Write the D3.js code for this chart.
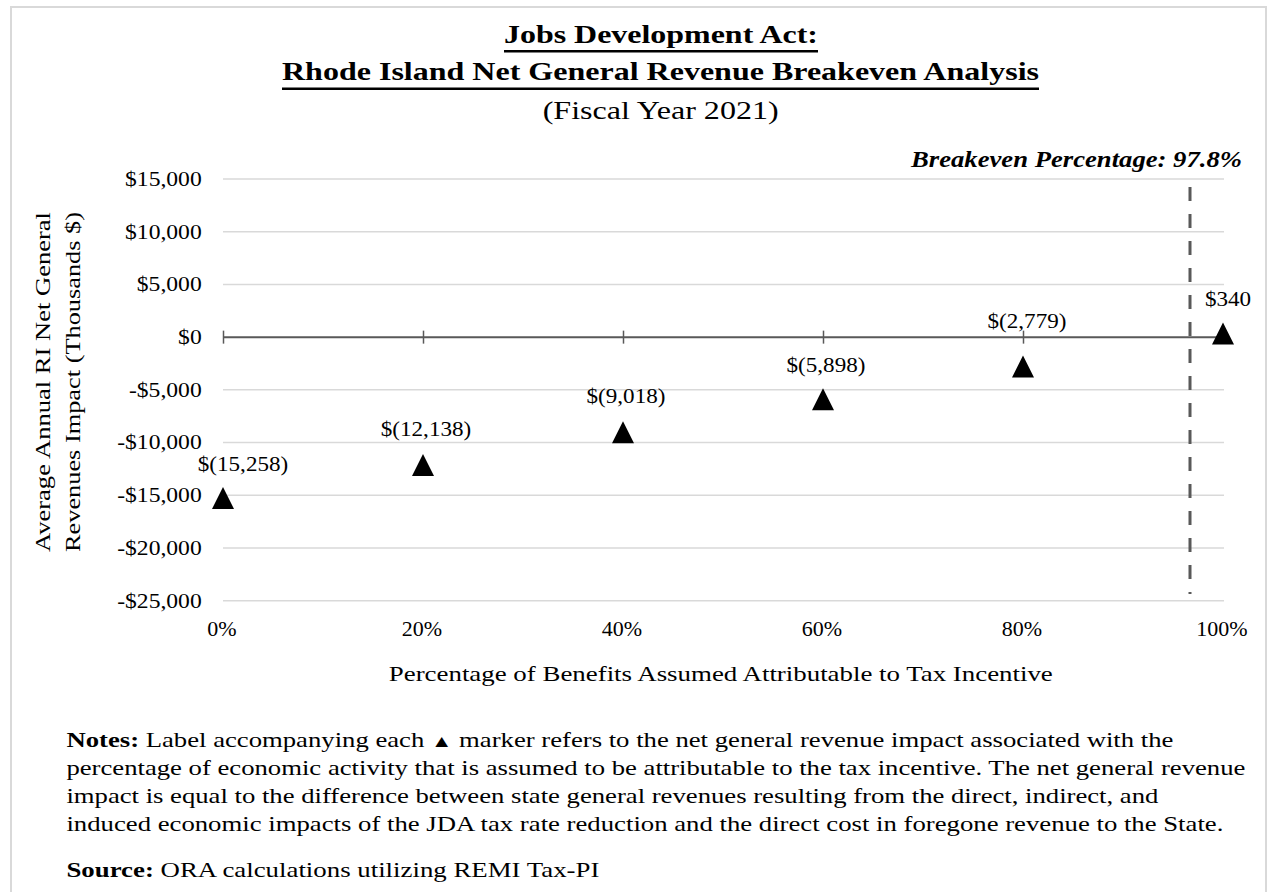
<!DOCTYPE html>
<html>
<head>
<meta charset="utf-8">
<script src="https://cdn.jsdelivr.net/npm/d3@7"></script>
<style>
  html, body { margin: 0; padding: 0; background: #fff; }
  svg { display: block; }
  text { font-family: "Liberation Serif", "Times New Roman", serif; fill: #000; }
</style>
</head>
<body>
<div id="chart"></div>
<script>
// ---------------- data ----------------
const pctAttributable = [0, 20, 40, 60, 80, 100];
const revenueImpact = [-15258, -12138, -9018, -5898, -2779, 340];
const pointLabels = ["$(15,258)", "$(12,138)", "$(9,018)", "$(5,898)", "$(2,779)", "$340"];
const yTickValues = [15000, 10000, 5000, 0, -5000, -10000, -15000, -20000, -25000];
const yTickLabels = ["$15,000", "$10,000", "$5,000", "$0", "-$5,000", "-$10,000", "-$15,000", "-$20,000", "-$25,000"];
const xTickValues = [0, 20, 40, 60, 80, 100];
const xTickLabels = ["0%", "20%", "40%", "60%", "80%", "100%"];
const breakevenText = "Breakeven Percentage: 97.8%";
const breakevenLineAt = 96.7; // where the dashed line is drawn in the original picture

const titleLines = ["Jobs Development Act:", "Rhode Island Net General Revenue Breakeven Analysis"];
const subtitle = "(Fiscal Year 2021)";
const yTitleLines = ["Average Annual RI Net General", "Revenues Impact (Thousands $)"];
const xTitle = "Percentage of Benefits Assumed Attributable to Tax Incentive";
const notesLines = [
  "Label accompanying each \u25B2 marker refers to the net general revenue impact associated with the",
  "percentage of economic activity that is assumed to be attributable to the tax incentive. The net general revenue",
  "impact is equal to the difference between state general revenues resulting from the direct, indirect, and",
  "induced economic impacts of the JDA tax rate reduction and the direct cost in foregone revenue to the State."
];
const sourceText = "ORA calculations utilizing REMI Tax-PI";

// ---------------- layout / style ----------------
const W = 1269, H = 892;
const labelNudge = [[20, -27], [3, -29], [3, -29], [3, -27], [4, -38], [5, -28]];

const svg = d3.select("#chart").append("svg").attr("width", W).attr("height", H);

// page border
svg.append("rect").attr("x", 11).attr("y", 7).attr("width", 1255).attr("height", 900)
  .attr("fill", "none").attr("stroke", "#d9d9d9").attr("stroke-width", 2);

const x = d3.scaleLinear().domain([0, 100]).range([223, 1223]);
const y = d3.scaleLinear().domain([-25000, 15000]).range([600.7, 179]);

// gridlines
svg.append("g").selectAll("line").data(yTickValues.filter(v => v !== 0)).join("line")
  .attr("x1", x(0)).attr("x2", x(100) + 1)
  .attr("y1", d => y(d)).attr("y2", d => y(d))
  .attr("stroke", "#d9d9d9").attr("stroke-width", 1.5);

// zero axis with ticks
const xAxis = d3.axisBottom(x).tickValues(xTickValues).tickSize(6.5).tickFormat("");
const axG = svg.append("g").attr("transform", `translate(0,${y(0)})`).call(xAxis);
axG.select(".domain").remove();
axG.append("line").attr("x1", x(0)).attr("x2", x(100) + 1).attr("stroke", "#595959").attr("stroke-width", 2);
axG.selectAll(".tick line").attr("y1", -6.5).attr("y2", 6.5).attr("stroke", "#595959").attr("stroke-width", 1.5);

// y tick labels (slightly wide letterforms)
const ySx = 1.18;
svg.append("g").selectAll("text").data(yTickValues).join("text")
  .attr("transform", d => `translate(201.7,${y(d) + 6.8}) scale(${ySx},1)`)
  .attr("text-anchor", "end").attr("font-size", 20)
  .text((d, i) => yTickLabels[i]);

// x tick labels
svg.append("g").selectAll("text").data(xTickValues).join("text")
  .attr("x", d => x(d) - 1).attr("y", 636)
  .attr("text-anchor", "middle").attr("font-size", 22)
  .text((d, i) => xTickLabels[i]);

// breakeven dashed line
svg.append("line")
  .attr("x1", x(breakevenLineAt)).attr("x2", x(breakevenLineAt))
  .attr("y1", 187).attr("y2", 594)
  .attr("stroke", "#595959").attr("stroke-width", 3).attr("stroke-dasharray", "14,13");

svg.append("text").attr("x", 911).attr("y", 166.5)
  .attr("font-size", 23).attr("font-weight", "bold").attr("font-style", "italic")
  .attr("textLength", 331).attr("lengthAdjust", "spacingAndGlyphs")
  .text(breakevenText);

// markers
svg.append("g").selectAll("path").data(pctAttributable).join("path")
  .attr("d", "M0,-11L11,11L-11,11Z")
  .attr("transform", (d, i) => `translate(${x(d)},${y(revenueImpact[i])})`)
  .attr("fill", "#000");

// data labels
const lSx = 1.1;
svg.append("g").selectAll("text").data(pctAttributable).join("text")
  .attr("transform", (d, i) => `translate(${x(d) + labelNudge[i][0]},${y(revenueImpact[i]) + labelNudge[i][1]}) scale(${lSx},1)`)
  .attr("text-anchor", "middle").attr("font-size", 21)
  .text((d, i) => pointLabels[i]);

// titles
const titleSpec = [
  { x: 504, w: 314, base: 42.7, ul: 51.3 },
  { x: 282, w: 757, base: 80, ul: 88.7 }
];
titleLines.forEach((t, i) => {
  const s = titleSpec[i];
  svg.append("text").attr("x", s.x).attr("y", s.base)
    .attr("font-size", 26).attr("font-weight", "bold")
    .attr("textLength", s.w).attr("lengthAdjust", "spacingAndGlyphs").text(t);
  svg.append("line").attr("x1", s.x).attr("x2", s.x + s.w).attr("y1", s.ul).attr("y2", s.ul)
    .attr("stroke", "#000").attr("stroke-width", 2.5);
});
svg.append("text").attr("x", 542.7).attr("y", 119)
  .attr("font-size", 26).attr("textLength", 236).attr("lengthAdjust", "spacingAndGlyphs")
  .text(subtitle);

// y title
yTitleLines.forEach((t, i) => {
  svg.append("text").attr("transform", `translate(${50 + i * 30},${552}) rotate(-90)`)
    .attr("font-size", 22).attr("textLength", 340).attr("lengthAdjust", "spacingAndGlyphs")
    .text(t);
});

// x title
svg.append("text").attr("x", 388.8).attr("y", 680.5)
  .attr("font-size", 22).attr("textLength", 664).attr("lengthAdjust", "spacingAndGlyphs")
  .text(xTitle);

// notes
const noteSpec = [
  { base: 747, w: 1107 },
  { base: 775, w: 1179 },
  { base: 803, w: 1092 },
  { base: 831, w: 1157 }
];
notesLines.forEach((t, i) => {
  const s = noteSpec[i];
  const el = svg.append("text").attr("x", 66.4).attr("y", s.base).attr("font-size", 21)
    .attr("textLength", s.w).attr("lengthAdjust", "spacingAndGlyphs");
  if (i === 0) {
    el.append("tspan").attr("font-weight", "bold").text("Notes: ");
    const parts = t.split("\u25B2");
    el.append("tspan").text(parts[0]);
    el.append("tspan").attr("font-size", 17).text("\u25B2");
    el.append("tspan").text(parts[1]);
  } else {
    el.text(t);
  }
});
const src = svg.append("text").attr("x", 66.4).attr("y", 876.5).attr("font-size", 21)
  .attr("textLength", 533).attr("lengthAdjust", "spacingAndGlyphs");
src.append("tspan").attr("font-weight", "bold").text("Source: ");
src.append("tspan").text(sourceText);
</script>
</body>
</html>
